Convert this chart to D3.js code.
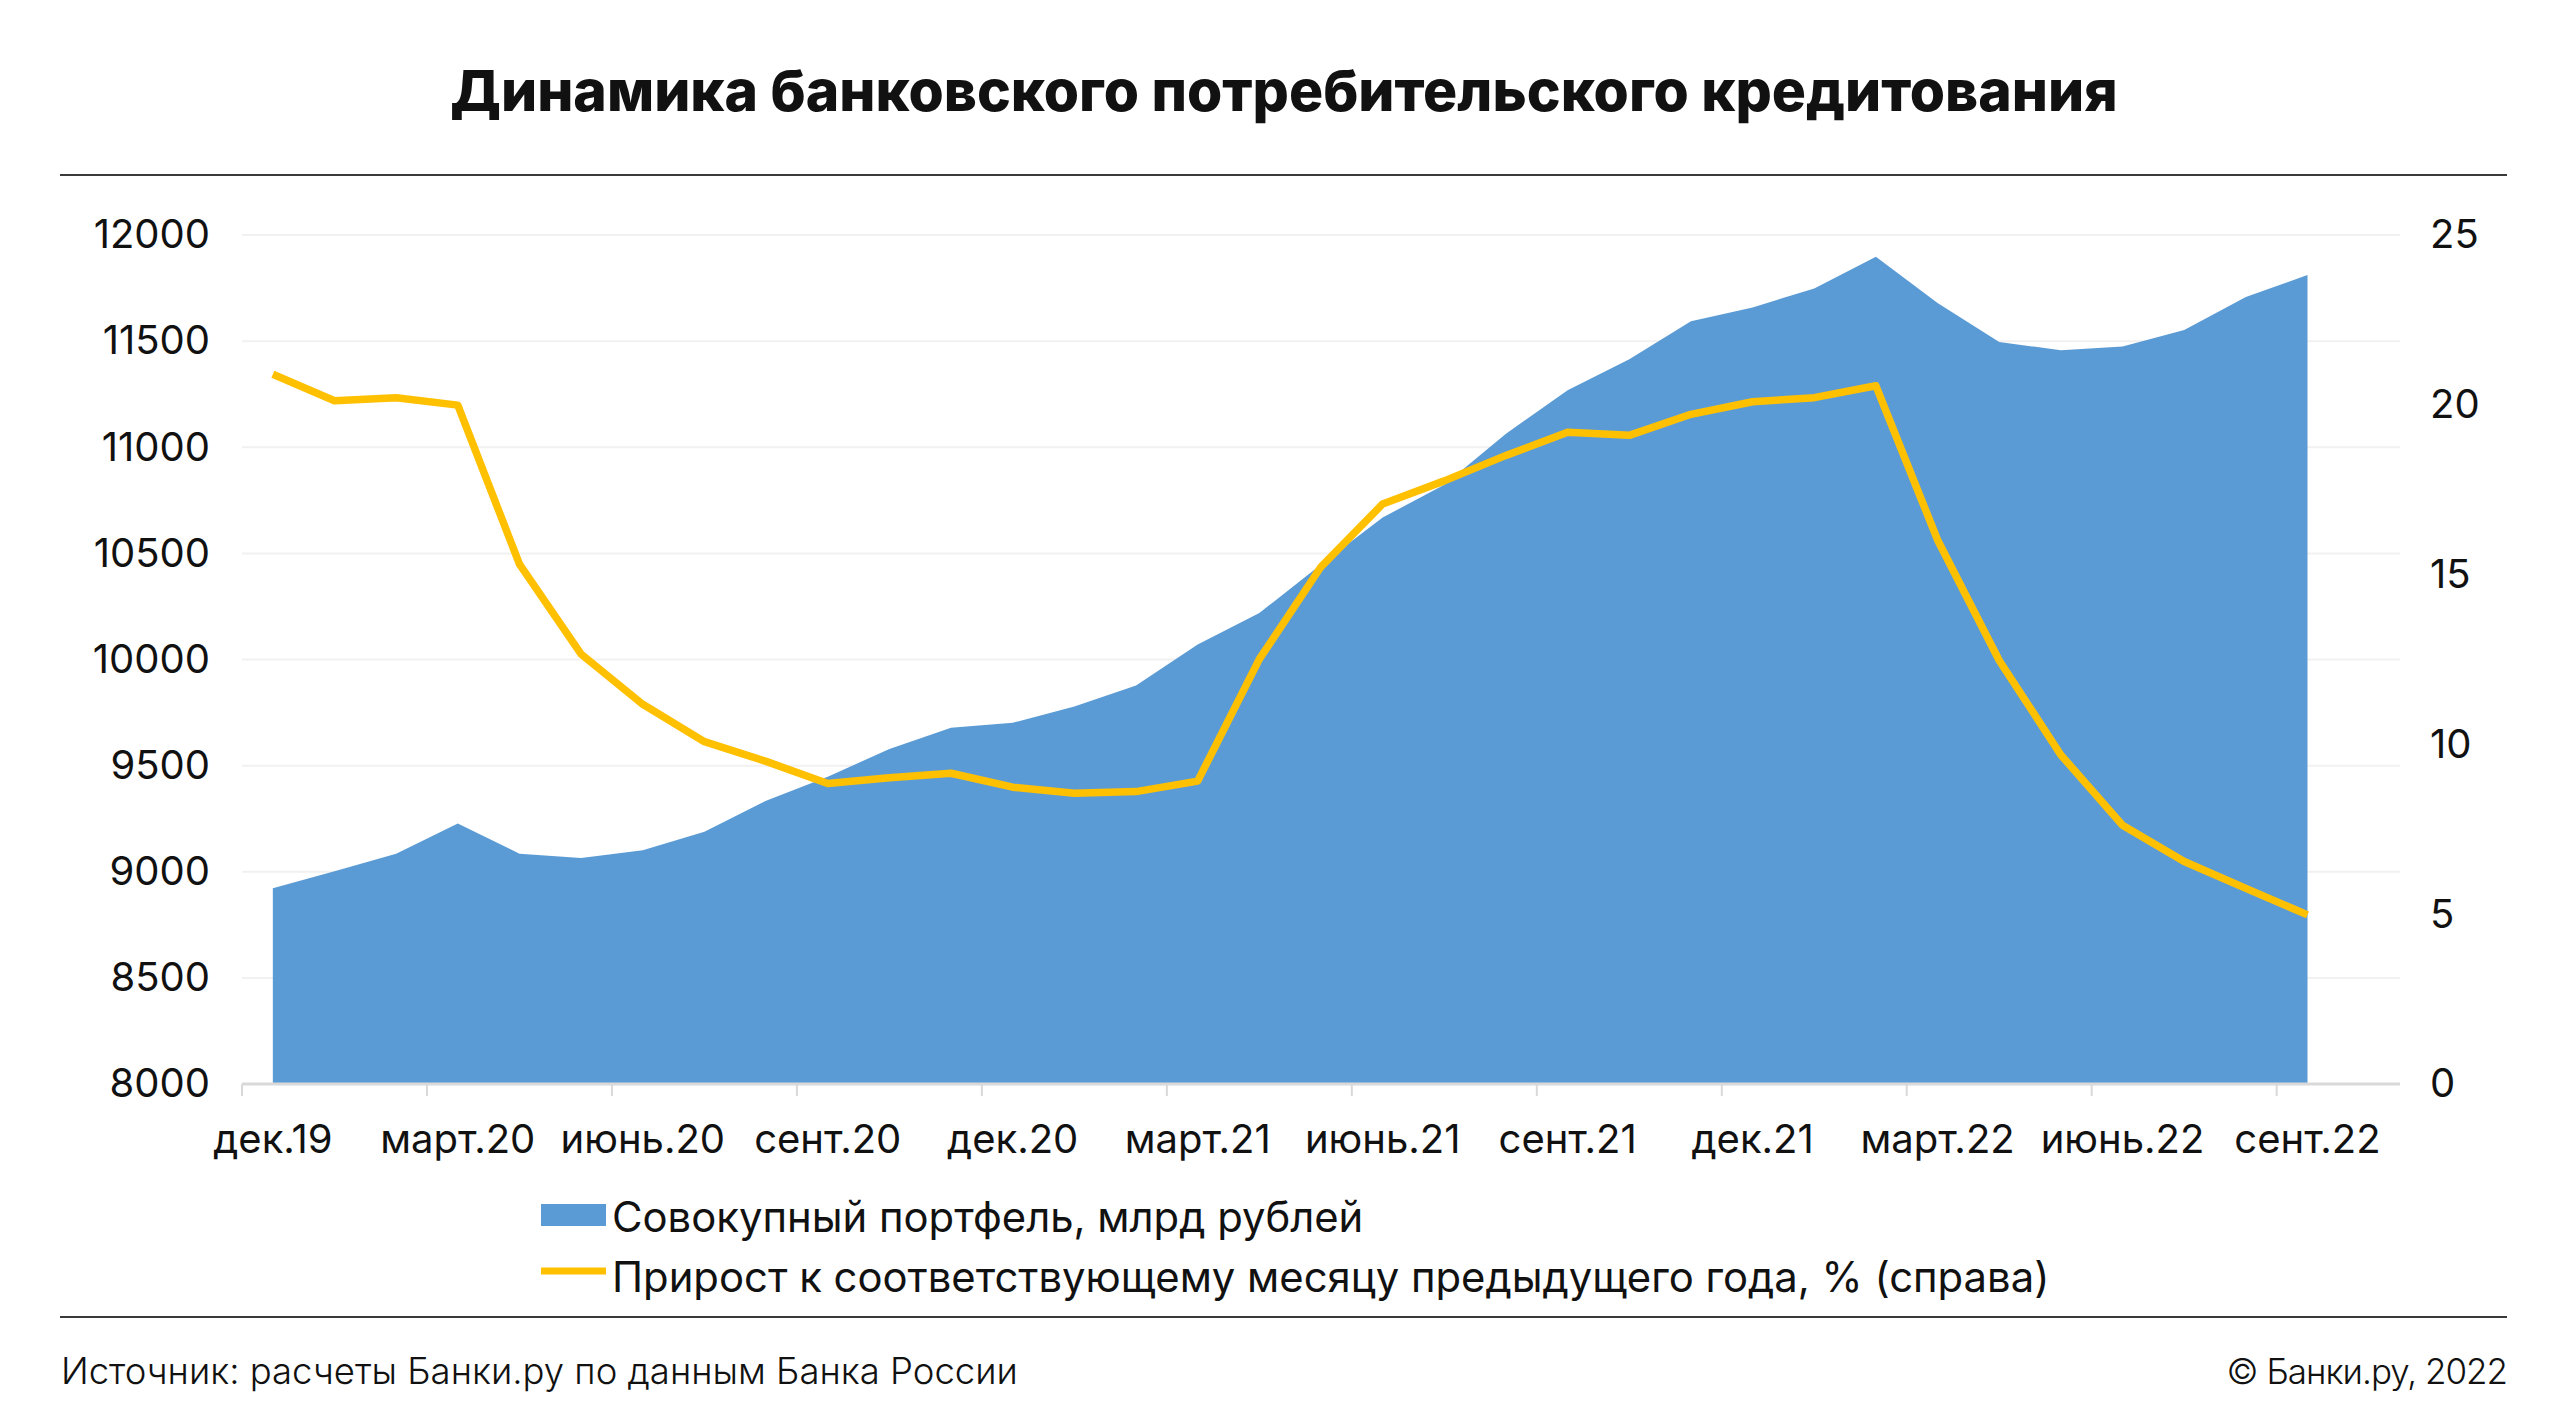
<!DOCTYPE html>
<html lang="ru">
<head>
<meta charset="utf-8">
<script src="https://cdn.jsdelivr.net/npm/d3@7"></script>
<style>
    body { margin: 0; background: #ffffff; }
    text { font-family: "Inter", "Noto Sans", sans-serif; fill: #111111; }
</style>
</head>
<body>
<div id="chart"></div>
<script>
// Months on the x axis (Dec 2019 - Sep 2022)
var months = [
    "дек.19", "янв.20", "февр.20", "март.20", "апр.20", "май.20", "июнь.20", "июль.20", "авг.20",
    "сент.20", "окт.20", "нояб.20", "дек.20", "янв.21", "февр.21", "март.21", "апр.21", "май.21",
    "июнь.21", "июль.21", "авг.21", "сент.21", "окт.21", "нояб.21", "дек.21", "янв.22", "февр.22",
    "март.22", "апр.22", "май.22", "июнь.22", "июль.22", "авг.22", "сент.22"
];

// Total portfolio, bn rubles (left axis)
var portfolio = [
    8922, 9002, 9085, 9227, 9085, 9065, 9101, 9189, 9335, 9448, 9578, 9679,
    9702, 9778, 9877, 10071, 10219, 10447, 10669, 10823, 11064, 11269, 11415, 11594,
    11659, 11748, 11897, 11680, 11496, 11457, 11475, 11553, 11708, 11811
];

// Growth vs same month of previous year, % (right axis)
var growth = [
    20.9, 20.12, 20.21, 19.99, 15.31, 12.66, 11.18, 10.08, 9.5, 8.85, 9.02, 9.15,
    8.74, 8.56, 8.61, 8.92, 12.51, 15.23, 17.08, 17.76, 18.51, 19.19, 19.10, 19.72,
    20.09, 20.21, 20.56, 16.02, 12.47, 9.69, 7.62, 6.55, 5.76, 4.98
];

var leftTicks = [8000, 8500, 9000, 9500, 10000, 10500, 11000, 11500, 12000];
var rightTicks = [0, 5, 10, 15, 20, 25];

var titleText = "Динамика банковского потребительского кредитования";
var legendArea = "Совокупный портфель, млрд рублей";
var legendLine = "Прирост к соответствующему месяцу предыдущего года, % (справа)";
var sourceText = "Источник: расчеты Банки.ру по данным Банка России";
var copyText = "© Банки.ру, 2022";

// SVG area
var svgWidth = 2568;
var svgHeight = 1426;

var plot = { left: 242, right: 2400, top: 235, bottom: 1084 };

var svg = d3.select("#chart")
    .append("svg")
    .attr("width", svgWidth)
    .attr("height", svgHeight);

// Title and rules
svg.append("text")
    .attr("x", svgWidth / 2)
    .attr("y", 111)
    .attr("text-anchor", "middle")
    .attr("font-size", 57)
    .attr("font-weight", 800)
    .text(titleText);

svg.append("line")
    .attr("x1", 60).attr("x2", 2507)
    .attr("y1", 175).attr("y2", 175)
    .attr("stroke", "#3a3a3a")
    .attr("stroke-width", 2);

svg.append("line")
    .attr("x1", 60).attr("x2", 2507)
    .attr("y1", 1317).attr("y2", 1317)
    .attr("stroke", "#3a3a3a")
    .attr("stroke-width", 2);

// Scales: Excel leaves one empty slot after the last month
var step = (plot.right - plot.left) / (months.length + 1);

var xScale = d3.scaleBand()
    .domain(months)
    .range([plot.left, plot.left + step * months.length]);

var yLeft = d3.scaleLinear()
    .domain([8000, 12000])
    .range([plot.bottom, plot.top]);

var yRight = d3.scaleLinear()
    .domain([0, 25])
    .range([plot.bottom, plot.top]);

var xMid = d => xScale(d) + xScale.bandwidth() / 2;

// Gridlines
svg.append("g")
    .selectAll("line")
    .data(leftTicks.slice(1))
    .enter()
    .append("line")
    .attr("x1", plot.left)
    .attr("x2", plot.right)
    .attr("y1", d => yLeft(d))
    .attr("y2", d => yLeft(d))
    .attr("stroke", "#f1f1f1")
    .attr("stroke-width", 2);

// Area for the portfolio
var area = d3.area()
    .x((d, i) => xMid(months[i]))
    .y0(yLeft(8000))
    .y1(d => yLeft(d));

svg.append("path")
    .datum(portfolio)
    .attr("fill", "#5b9bd5")
    .attr("d", area);

// Growth line
var line = d3.line()
    .x((d, i) => xMid(months[i]))
    .y(d => yRight(d));

svg.append("path")
    .datum(growth)
    .attr("fill", "none")
    .attr("stroke", "#ffc000")
    .attr("stroke-width", 7.5)
    .attr("stroke-linejoin", "round")
    .attr("d", line);

// X axis line and tick marks (every quarter, on band edges)
svg.append("line")
    .attr("x1", plot.left).attr("x2", plot.right)
    .attr("y1", plot.bottom).attr("y2", plot.bottom)
    .attr("stroke", "#d9d9d9")
    .attr("stroke-width", 3);

var quarterMonths = months.filter((d, i) => i % 3 === 0);

svg.append("g")
    .selectAll("line")
    .data(quarterMonths)
    .enter()
    .append("line")
    .attr("x1", d => xScale(d))
    .attr("x2", d => xScale(d))
    .attr("y1", plot.bottom)
    .attr("y2", plot.bottom + 12)
    .attr("stroke", "#d9d9d9")
    .attr("stroke-width", 2);

// Axis labels via d3 axes
var bottomAxis = d3.axisBottom(xScale)
    .tickValues(quarterMonths)
    .tickSize(0)
    .tickPadding(41);

var leftAxis = d3.axisLeft(yLeft)
    .tickValues(leftTicks)
    .tickFormat(d3.format("d"))
    .tickSize(0)
    .tickPadding(32);

var rightAxis = d3.axisRight(yRight)
    .tickValues(rightTicks)
    .tickSize(0)
    .tickPadding(30);

function styleAxis(g) {
    g.select(".domain").remove();
    g.selectAll("text")
        .attr("font-size", 40)
        .attr("fill", "#111111")
        .style("font-family", "Inter, 'Noto Sans', sans-serif");
}

svg.append("g")
    .attr("transform", `translate(0, ${plot.bottom})`)
    .call(bottomAxis)
    .call(styleAxis);

svg.append("g")
    .attr("transform", `translate(${plot.left}, 0)`)
    .call(leftAxis)
    .call(styleAxis);

svg.append("g")
    .attr("transform", `translate(${plot.right}, 0)`)
    .call(rightAxis)
    .call(styleAxis)
    .selectAll("text")
    .attr("text-anchor", "start");

// Legend
svg.append("rect")
    .attr("x", 541)
    .attr("y", 1204)
    .attr("width", 65)
    .attr("height", 22)
    .attr("fill", "#5b9bd5");

svg.append("text")
    .attr("x", 612)
    .attr("y", 1232)
    .attr("font-size", 41.8)
    .text(legendArea);

svg.append("line")
    .attr("x1", 541).attr("x2", 606)
    .attr("y1", 1271).attr("y2", 1271)
    .attr("stroke", "#ffc000")
    .attr("stroke-width", 7);

svg.append("text")
    .attr("x", 612)
    .attr("y", 1292)
    .attr("font-size", 41.8)
    .text(legendLine);

// Footer
svg.append("text")
    .attr("x", 61)
    .attr("y", 1384)
    .attr("font-size", 36.5)
    .attr("font-weight", 300)
    .text(sourceText);

svg.append("text")
    .attr("x", 2507)
    .attr("y", 1384)
    .attr("text-anchor", "end")
    .attr("font-size", 35)
    .attr("font-weight", 300)
    .attr("letter-spacing", -1)
    .text(copyText);
</script>
</body>
</html>
